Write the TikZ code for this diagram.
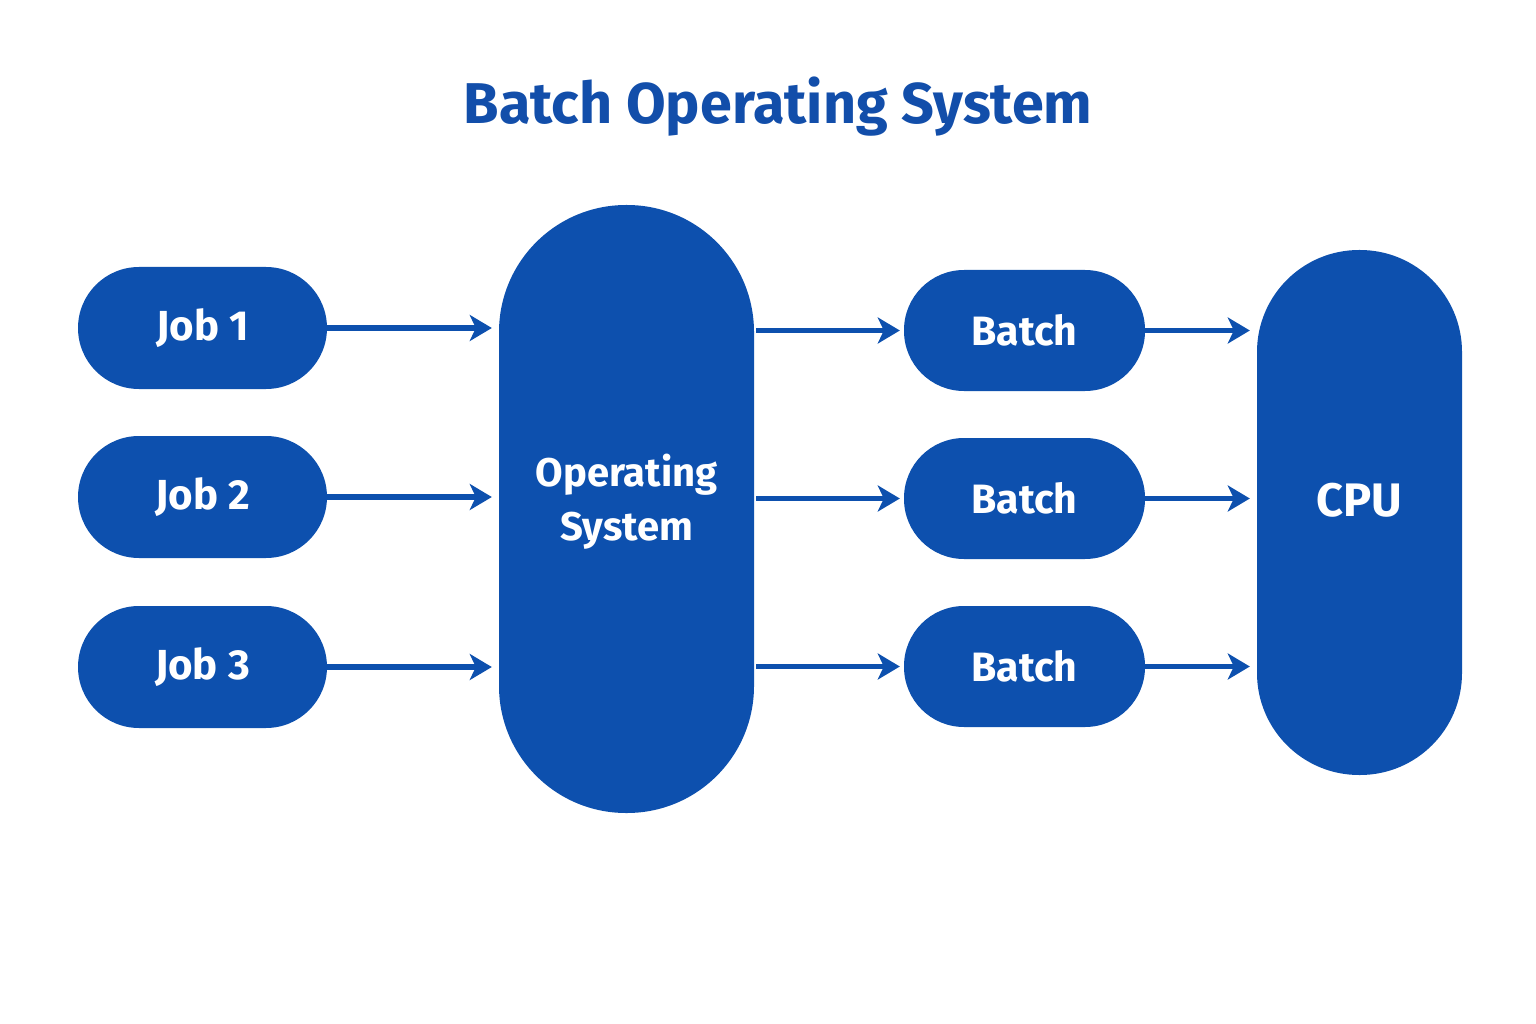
\documentclass[tikz,border=0pt]{standalone}
\usepackage{fontspec}
\setmainfont{Fira Sans}
\usetikzlibrary{arrows.meta}
\definecolor{osblue}{RGB}{13,80,174}
\definecolor{titleblue}{RGB}{18,78,170}
\tikzset{
  pill/.style={fill=osblue, draw=none, text=white, inner sep=0pt, font=\fontsize{42}{48}\selectfont\bfseries, align=center},
  flowarrow/.style={draw=osblue, line width=5.5pt, -{Stealth[length=22pt,width=26pt,inset=6pt]}}
}
\begin{document}
\begin{tikzpicture}[x=1pt,y=-1pt]
\useasboundingbox (0,0) rectangle (1536,1024);
\fill[white] (0,0) rectangle (1536,1024);
\node[text=titleblue, font=\fontsize{57.5}{66}\selectfont\bfseries] (title) at (778,107) {Batch Operating System};
% jobs
\node[pill, minimum width=249pt, minimum height=122pt, rounded corners=61pt] (j1) at (202.5,328) {Job 1};
\node[pill, minimum width=249pt, minimum height=122pt, rounded corners=61pt] (j2) at (202.5,497) {Job 2};
\node[pill, minimum width=249pt, minimum height=122pt, rounded corners=61pt] (j3) at (202.5,667) {Job 3};
% OS
\node[pill, minimum width=255pt, minimum height=608pt, rounded corners=127pt] (os) at (626.5,509) {};
\node[text=white, font=\fontsize{40}{54}\selectfont\bfseries, align=center] (oslabel) at (626.5,502) {Operating\\System};
% batches
\node[pill, minimum width=241pt, minimum height=121pt, rounded corners=60pt, font=\fontsize{41}{48}\selectfont\bfseries] (b1) at (1024.5,330.5) {Batch};
\node[pill, minimum width=241pt, minimum height=121pt, rounded corners=60pt, font=\fontsize{41}{48}\selectfont\bfseries] (b2) at (1024.5,498.5) {Batch};
\node[pill, minimum width=241pt, minimum height=121pt, rounded corners=60pt, font=\fontsize{41}{48}\selectfont\bfseries] (b3) at (1024.5,666.5) {Batch};
% CPU
\node[pill, minimum width=205pt, minimum height=525pt, rounded corners=102pt] (cpu) at (1359.5,512.5) {};
\node[text=white, font=\fontsize{47}{54}\selectfont\bfseries] (cpulabel) at (1359.5,500) {CPU};
% arrows
\foreach \j in {j1,j2,j3}{
  \draw[flowarrow, shorten >=7pt] (\j.east) -- (\j.east -| os.west);
}
\foreach \b in {b1,b2,b3}{
  \draw[flowarrow, shorten <=2pt, shorten >=4pt] (\b.west -| os.east) -- (\b.west);
  \draw[flowarrow, shorten >=7pt] (\b.east) -- (\b.east -| cpu.west);
}
\end{tikzpicture}
\end{document}
